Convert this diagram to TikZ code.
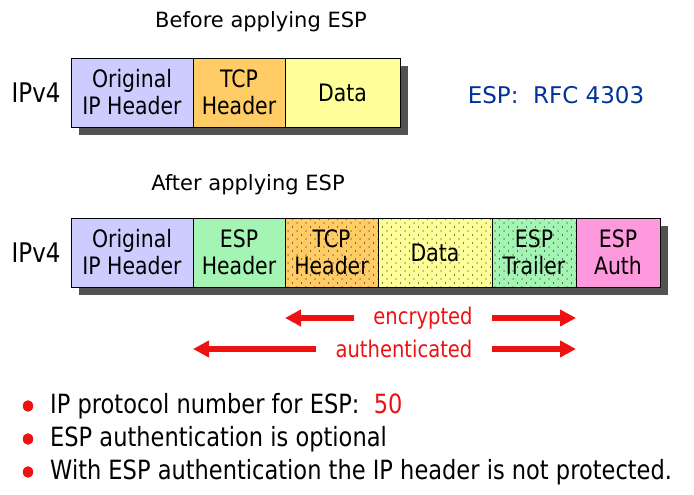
\documentclass[tikz,border=0pt]{standalone}
\usepackage{fontspec}
\setmainfont{DejaVu Sans}[FakeStretch=0.85]
\newfontfamily\widefont{DejaVu Sans}
\usepackage{xcolor}
\usetikzlibrary{positioning}
\usetikzlibrary{shadows}
\usetikzlibrary{arrows.meta}
\usetikzlibrary{patterns.meta}

\definecolor{iphdr}{HTML}{CCCCFF}
\definecolor{tcphdr}{HTML}{FFCC66}
\definecolor{datafld}{HTML}{FFFF99}
\definecolor{esphdr}{HTML}{A4F4B4}
\definecolor{espauth}{HTML}{FF99DD}
\definecolor{rfcblue}{HTML}{003399}
\definecolor{arrred}{HTML}{EE1111}

\tikzdeclarepattern{
  name=sparsedots,
  type=uncolored,
  bottom left={(-.5pt,-.5pt)},
  top right={(9.5pt,8.5pt)},
  tile size={(9pt,8pt)},
  code={\fill (0pt,0pt) circle (.6pt); \fill (4.5pt,4pt) circle (.6pt);}
}

\tikzset{
  field/.style={draw, line width=.8pt, outer sep=0pt, inner sep=0pt,
    minimum height=69pt, align=center,
    font=\fontsize{24}{27}\selectfont,
    drop shadow={shadow xshift=8pt, shadow yshift=-8pt, fill=black!68, opacity=1}},
  crypt/.style={postaction={pattern=sparsedots, pattern color=black}},
  ipv/.style={font=\fontsize{27}{30}\selectfont},
  title/.style={font=\widefont\fontsize{21}{24}\selectfont},
  redlbl/.style={text=arrred, inner xsep=19pt, font=\fontsize{23}{26}\selectfont},
  redarrow/.style={draw=arrred, line width=5.5pt, -{Triangle[length=16pt,width=16pt]}},
  bullet/.style={anchor=west, inner sep=0pt, font=\fontsize{26.5}{30}\selectfont}
}

\begin{document}
\begin{tikzpicture}[x=1pt,y=1pt]
  \useasboundingbox (0,0) rectangle (694,-495);

  % before
  \node[title] (before) at (261,-22) {Before applying ESP};
  \node[field, fill=iphdr, minimum width=122pt, anchor=north west] (ipA) at (71,-58) {Original\\IP Header};
  \node[field, fill=tcphdr, minimum width=92pt, right=0pt of ipA] (tcpA) {TCP\\Header};
  \node[field, fill=datafld, minimum width=115pt, right=0pt of tcpA] (dataA) {Data};
  \node[ipv, left=7pt of ipA] (ipvA) {IPv4};
  \node[font=\widefont\fontsize{23}{27}\selectfont, text=rfcblue] (rfc) at (556,-95) {ESP:\ \ RFC 4303};

  % after
  \node[title] (after) at (248,-185) {After applying ESP};
  \node[field, fill=iphdr, minimum width=122pt, anchor=north west] (ipB) at (71,-218) {Original\\IP Header};
  \node[field, fill=esphdr, minimum width=92pt, right=0pt of ipB] (espB) {ESP\\Header};
  \node[field, fill=tcphdr, crypt, minimum width=93pt, right=0pt of espB] (tcpB) {TCP\\Header};
  \node[field, fill=datafld, crypt, minimum width=114pt, right=0pt of tcpB] (dataB) {Data};
  \node[field, fill=esphdr, crypt, minimum width=84pt, right=0pt of dataB] (trlB) {ESP\\Trailer};
  \node[field, fill=espauth, minimum width=84pt, right=0pt of trlB] (authB) {ESP\\Auth};
  \node[ipv, left=7pt of ipB] (ipvB) {IPv4};

  % arrows
  \node[redlbl] (enc) at (423,-318) {encrypted};
  \coordinate (encL) at (tcpB.west |- enc);
  \coordinate (encR) at (trlB.east |- enc);
  \draw[redarrow] (enc.west) -- (encL);
  \draw[redarrow] (enc.east) -- (encR);
  \node[redlbl] (auth) at (404,-349) {authenticated};
  \coordinate (authL) at (espB.west |- auth);
  \coordinate (authR) at (trlB.east |- auth);
  \draw[redarrow] (auth.west) -- (authL);
  \draw[redarrow] (auth.east) -- (authR);

  % bullets
  \foreach \y/\txt [count=\i] in {-406/{IP protocol number for ESP:\ \ \textcolor{arrred}{50}},
      -439/{ESP authentication is optional},
      -472/{With ESP authentication the IP header is not protected.}}{
    \fill[arrred] (28,\y) ellipse (5.2pt and 5.8pt);
    \node[bullet] (pt\i) at (50,\y) {\txt};
  }
\end{tikzpicture}
\end{document}
